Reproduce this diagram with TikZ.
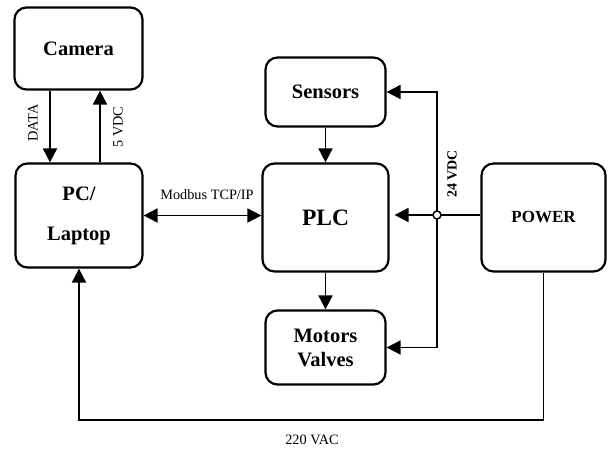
\documentclass[tikz,border=0pt]{standalone}
\usepackage{fontspec}
\setmainfont{Liberation Serif}
\usetikzlibrary{arrows.meta,calc}
\begin{document}
\begin{tikzpicture}[x=1pt,y=-1pt,
  box/.style={draw,line width=2.2pt,rounded corners=12pt,align=center,font=\bfseries\fontsize{20.5}{24}\selectfont,inner sep=0pt},
  arr/.style={line width=1.8pt,-{Triangle[length=14pt,width=14pt]}},
  line/.style={line width=1.8pt},
  lbl/.style={font=\fontsize{14.3}{16}\selectfont,inner sep=0pt}]
\useasboundingbox (0,0) rectangle (608,449);
\node[box,minimum width=128pt,minimum height=82pt] (cam) at (78.5,48.5) {Camera};
\node[box,minimum width=127pt,minimum height=104pt] (pc) at (79,215.5) {PC/\\[16pt]Laptop};
\node[box,minimum width=120pt,minimum height=69pt] (sen) at (325.5,92) {Sensors};
\node[box,minimum width=126pt,minimum height=108pt,font=\bfseries\fontsize{23.5}{28}\selectfont] (plc) at (325.5,217.5) {PLC};
\node[box,minimum width=120pt,minimum height=74pt] (mot) at (325.5,347.5) {Motors\\Valves};
\node[box,minimum width=124pt,minimum height=108pt,font=\bfseries\fontsize{17}{20}\selectfont] (pow) at (543.5,217.5) {POWER};
\coordinate (xd) at (50,0);
\coordinate (xv) at (100,0);
\coordinate (jn) at (437,215);
\coordinate (bot) at (300,420);
\draw[arr] (cam.south -| xd) -- (pc.north -| xd);
\draw[arr] (pc.north -| xv) -- (cam.south -| xv);
\draw[line width=1.8pt,{Triangle[length=14pt,width=14pt]}-{Triangle[length=14pt,width=14pt]}] (pc.east) -- (pc.east -| plc.west);
\draw[arr] (sen.south) -- (plc.north);
\draw[arr] (plc.south) -- (mot.north);
\draw[line] (pow.west |- jn) -- (jn);
\draw[arr,shorten >=5pt] (jn) -- (jn -| plc.east);
\draw[arr] (jn) |- (sen.east);
\draw[arr] (jn) |- (mot.east);
\draw[arr] (pow.south) -- (pow.south |- bot) -| (pc.south);
\node[draw,circle,line width=1.5pt,fill=white,minimum size=8pt,inner sep=0pt] (jc) at (jn) {};
\node[lbl,rotate=90] (ldata) at (33,123) {DATA};
\node[lbl,rotate=90] (lvdc) at (118,127) {5 VDC};
\node[lbl] (lmod) at (207,195) {Modbus TCP/IP};
\node[lbl,rotate=90,font=\bfseries\fontsize{14}{16}\selectfont] (l24) at (452,174) {24 VDC};
\node[lbl] (l220) at (312,440) {220 VAC};
\end{tikzpicture}
\end{document}
